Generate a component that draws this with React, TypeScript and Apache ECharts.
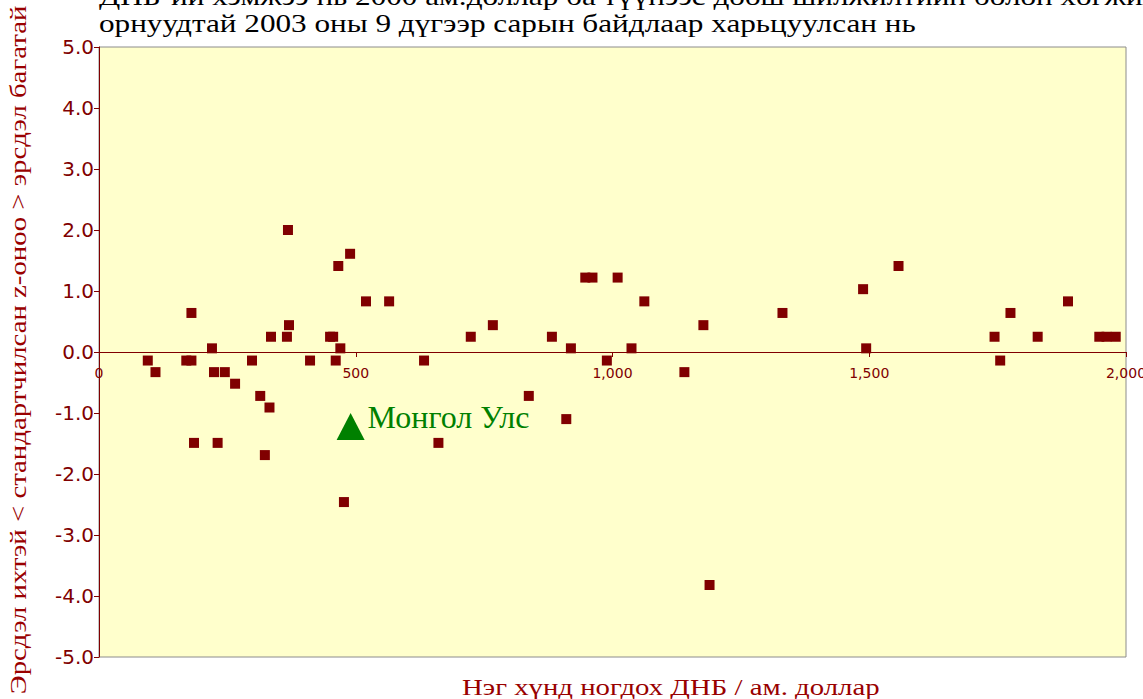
import React, { useEffect, useRef } from "react";
import * as echarts from "echarts";

const gdpPerCapita = [
  95, 110, 170, 180, 180, 185, 220, 224, 231, 245, 265, 298, 314, 323, 332, 335, 366, 368, 370, 411,
  450, 456, 461, 466, 470, 477, 489, 520, 565, 633, 661, 724, 767, 837, 882, 910, 919, 947, 961, 989,
  1010, 1037, 1062, 1140, 1177, 1189, 1331, 1488, 1494, 1557, 1744, 1755, 1775, 1828, 1887, 1948, 1962, 1980,
];
const zScores = [
  -0.14, -0.33, -0.14, -0.14, 0.64, -1.49, 0.06, -0.33, -1.49, -0.33, -0.52, -0.14, -0.72, -1.69, -0.91, 0.25, 0.25, 2.0, 0.44, -0.14,
  0.25, 0.25, -0.14, 1.41, 0.06, -2.46, 1.61, 0.83, 0.83, -0.14, -1.49, 0.25, 0.44, -0.72, 0.25, -1.1, 0.06, 1.22, 1.22, -0.14,
  1.22, 0.06, 0.83, -0.33, 0.44, -3.82, 0.64, 1.03, 0.06, 1.41, 0.25, -0.14, 0.64, 0.25, 0.83, 0.25, 0.25, 0.25,
];
const mongoliaName = "Монгол Улс";
const mongoliaPoint = [490, -1.22];
const xTicks = [0, 500, 1000, 1500, 2000];
const titleLines = [
  "ДНБ-ий хэмжээ нь 2000 ам.доллар ба түүнээс доош шилжилтийн болон хөгжиж буй",
  "орнуудтай 2003 оны 9 дүгээр сарын байдлаар харьцуулсан нь",
];
const yAxisTitle = "Эрсдэл ихтэй < стандартчилсан z-оноо > эрсдэл багатай";
const xAxisTitle = "Нэг хүнд ногдох ДНБ / ам. доллар";

const DARK_RED = "#800000";
const SERIF = "Liberation Serif";
const SANS = "DejaVu Sans";

const GRID_TOP = 47;
const GRID_BOTTOM = 42;
const GRID_H = 699 - GRID_TOP - GRID_BOTTOM;

export default function App() {
  const ref = useRef<HTMLDivElement>(null);
  useEffect(() => {
    if (!ref.current) return;
    const chart = echarts.init(ref.current, null, { renderer: "svg" });
    const points = gdpPerCapita.map((x, i) => [x, zScores[i]]);
    chart.setOption({
      animation: false,
      backgroundColor: "#ffffff",
      grid: {
        left: 99,
        right: 17,
        top: GRID_TOP,
        bottom: GRID_BOTTOM,
        containLabel: false,
        outerBoundsMode: "none",
        show: true,
        backgroundColor: "#FFFFCC",
        borderColor: "#8c8c8c",
        borderWidth: 1,
      },
      xAxis: {
        type: "value",
        position: "bottom",
        offset: -GRID_H / 2,
        min: xTicks[0],
        max: xTicks[xTicks.length - 1],
        interval: 500,
        splitLine: { show: false },
        axisLine: { onZero: false, lineStyle: { color: DARK_RED, width: 1 } },
        axisTick: { show: true, length: 5, lineStyle: { color: DARK_RED } },
        axisLabel: {
          color: DARK_RED,
          fontFamily: SANS,
          fontSize: 14,
          margin: 14,
          formatter: (v: number) => v.toLocaleString("en-US"),
        },
      },
      yAxis: {
        type: "value",
        min: -5,
        max: 5,
        interval: 1,
        splitLine: { show: false },
        axisLine: { show: true, onZero: false, lineStyle: { color: DARK_RED, width: 1 } },
        axisTick: { show: true, length: 5, lineStyle: { color: DARK_RED } },
        axisLabel: {
          color: DARK_RED,
          fontFamily: SANS,
          fontSize: 20,
          margin: 5,
          formatter: (v: number) => v.toFixed(1),
        },
      },
      graphic: [
        {
          type: "text",
          x: 99,
          y: -17,
          scaleX: 1.2,
          style: { text: titleLines[0], fill: "#000", fontFamily: SERIF, fontSize: 26 },
        },
        {
          type: "text",
          x: 99,
          y: 10,
          scaleX: 1.2,
          style: { text: titleLines[1], fill: "#000", fontFamily: SERIF, fontSize: 26 },
        },
        {
          type: "text",
          x: 462,
          y: 675,
          scaleX: 1.2,
          style: { text: xAxisTitle, fill: "#990000", fontFamily: SERIF, fontSize: 24 },
        },
        {
          type: "text",
          x: 18,
          y: 350,
          rotation: Math.PI / 2,
          scaleX: 1.2,
          style: {
            text: yAxisTitle,
            fill: "#990000",
            fontFamily: SERIF,
            fontSize: 24,
            align: "center",
            verticalAlign: "middle",
          },
        },
      ],
      series: [
        {
          type: "scatter",
          data: points,
          symbol: "rect",
          symbolSize: 10,
          itemStyle: { color: DARK_RED, opacity: 1 },
        },
        {
          type: "scatter",
          data: [{ value: mongoliaPoint, name: mongoliaName }],
          symbol: "triangle",
          symbolSize: [28, 27],
          itemStyle: { color: "#008000", opacity: 1 },
          label: {
            show: true,
            position: "right",
            distance: 3,
            offset: [0, -9],
            formatter: mongoliaName,
            color: "#008000",
            fontFamily: SERIF,
            fontSize: 32,
          },
        },
      ],
    });
    return () => chart.dispose();
  }, []);
  return <div ref={ref} style={{ width: 1143, height: 699, position: "absolute", left: 0, top: 0 }} />;
}
